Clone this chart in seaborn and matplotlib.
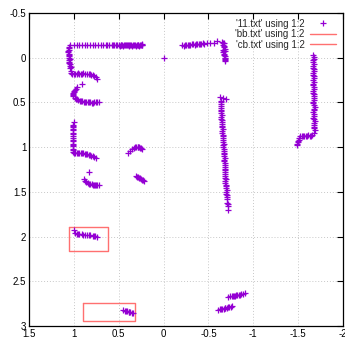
import matplotlib
matplotlib.use("Agg")
import matplotlib.pyplot as plt
from matplotlib.lines import Line2D
import seaborn as sns
import pandas as pd

# ---- data ('11.txt' using 1:2) ----
seg_top_left_x = [1.04, 1.0, 0.97, 0.94, 0.91, 0.88, 0.85, 0.82, 0.79, 0.76, 0.73, 0.70, 0.67, 0.64,
                  0.61, 0.58, 0.55, 0.52, 0.50, 0.48, 0.46, 0.44, 0.42, 0.40, 0.38, 0.36, 0.34, 0.32,
                  0.30, 0.28, 0.26, 0.245, 0.235,
                  0.49, 0.47, 0.45, 0.43, 0.41, 0.39, 0.37, 0.35, 0.33, 0.31, 0.29, 0.27, 0.25, 0.24,
                  0.625, 0.565, 0.535]
seg_top_left_y = [-0.14, -0.14, -0.14, -0.14, -0.14, -0.14, -0.14, -0.14, -0.14, -0.14, -0.14, -0.14,
                  -0.14, -0.14, -0.14, -0.14, -0.14, -0.14, -0.14, -0.14, -0.14, -0.14, -0.145, -0.14,
                  -0.14, -0.145, -0.14, -0.14, -0.145, -0.14, -0.145, -0.14, -0.145,
                  -0.135, -0.145, -0.135, -0.145, -0.14, -0.135, -0.145, -0.135, -0.145, -0.135, -0.145,
                  -0.135, -0.14, -0.15,
                  -0.14, -0.14, -0.145]

seg_left_vert_x = [1.05, 1.055, 1.06, 1.055, 1.05, 1.055, 1.05, 1.045, 1.04, 1.035, 1.03, 1.02,
                   1.055, 1.06, 1.05, 1.055, 1.045, 1.05, 1.04, 1.035]
seg_left_vert_y = [-0.12, -0.09, -0.06, -0.03, 0.0, 0.03, 0.06, 0.09, 0.12, 0.15, 0.17, 0.18,
                   -0.105, -0.075, -0.045, -0.015, 0.015, 0.045, 0.075, 0.105]

seg_hook_x = [1.0, 0.97, 0.94, 0.91, 0.88, 0.85, 0.82, 0.79, 0.77, 0.755, 0.745,
              0.985, 0.955, 0.925, 0.895, 0.835, 0.805]
seg_hook_y = [0.18, 0.18, 0.18, 0.18, 0.18, 0.18, 0.185, 0.19, 0.2, 0.22, 0.24,
              0.185, 0.175, 0.185, 0.175, 0.18, 0.19]

pt_single_x = [0.91, 0.0, 0.83]
pt_single_y = [0.29, 0.0, 1.28]

seg_curve_x = [0.96, 0.98, 0.995, 1.005, 1.01, 1.005, 0.99, 0.97, 0.95, 0.92, 0.89, 0.86, 0.83, 0.80,
               0.77, 0.74, 0.72, 0.985, 1.0, 1.01, 0.98, 0.935, 0.905, 0.875, 0.845, 0.815, 0.785, 0.755]
seg_curve_y = [0.33, 0.35, 0.37, 0.39, 0.41, 0.43, 0.45, 0.465, 0.475, 0.48, 0.49, 0.495, 0.50, 0.505,
               0.5, 0.5, 0.5, 0.36, 0.38, 0.42, 0.46, 0.48, 0.485, 0.49, 0.5, 0.5, 0.505, 0.495]

seg_top_mid_x = [-0.21, -0.24, -0.27, -0.30, -0.33, -0.36, -0.39, -0.42, -0.45, -0.48, -0.52, -0.56, -0.60,
                 -0.225, -0.255, -0.285, -0.315, -0.345, -0.375, -0.405, -0.435]
seg_top_mid_y = [-0.14, -0.14, -0.145, -0.145, -0.15, -0.15, -0.15, -0.155, -0.155, -0.16, -0.16, -0.165, -0.19,
                 -0.135, -0.145, -0.14, -0.15, -0.145, -0.155, -0.15, -0.16]

seg_blob_x = [-0.65, -0.67, -0.66, -0.67, -0.68, -0.67, -0.66, -0.67, -0.68, -0.69, -0.68, -0.69,
              -0.665, -0.675, -0.66, -0.685, -0.67, -0.68]
seg_blob_y = [-0.18, -0.16, -0.14, -0.12, -0.10, -0.08, -0.06, -0.04, -0.02, 0.0, 0.02, 0.04,
              -0.17, -0.13, -0.09, -0.07, -0.03, 0.01]

seg_mid_vert_x = [-0.63, -0.66, -0.70, -0.635, -0.64, -0.64, -0.645, -0.645, -0.65, -0.65, -0.655, -0.655,
                  -0.66, -0.66, -0.665, -0.665, -0.67, -0.67, -0.675, -0.675, -0.68, -0.68, -0.685,
                  -0.685, -0.69, -0.69, -0.695, -0.70, -0.70, -0.705, -0.71, -0.71, -0.715, -0.72,
                  -0.64, -0.635, -0.645, -0.64, -0.65, -0.645, -0.655, -0.65, -0.66, -0.655, -0.665,
                  -0.66, -0.67, -0.665, -0.675, -0.67, -0.68, -0.675, -0.685, -0.68, -0.69, -0.685,
                  -0.695, -0.69, -0.70, -0.705, -0.70, -0.71, -0.715]
seg_mid_vert_y = [0.44, 0.45, 0.46, 0.5, 0.54, 0.58, 0.62, 0.66, 0.70, 0.74, 0.78, 0.82, 0.86, 0.90, 0.94,
                  0.98, 1.02, 1.06, 1.10, 1.14, 1.18, 1.22, 1.26, 1.30, 1.34, 1.38, 1.42, 1.46, 1.50,
                  1.54, 1.58, 1.62, 1.66, 1.70,
                  0.48, 0.52, 0.56, 0.60, 0.64, 0.68, 0.72, 0.76, 0.80, 0.84, 0.88, 0.92, 0.96, 1.00,
                  1.04, 1.08, 1.12, 1.16, 1.20, 1.24, 1.28, 1.32, 1.36, 1.40, 1.44, 1.48, 1.52, 1.56, 1.64]

seg_right_x = [-1.67, -1.675, -1.67, -1.665, -1.675, -1.67, -1.68, -1.67, -1.665, -1.675, -1.67, -1.68,
               -1.675, -1.67, -1.675, -1.68, -1.67, -1.675, -1.68, -1.675, -1.68, -1.685, -1.68,
               -1.66, -1.63, -1.60, -1.57, -1.54, -1.52, -1.51, -1.50, -1.49, -1.485,
               -1.675, -1.665, -1.68, -1.67, -1.675, -1.665, -1.68, -1.675, -1.67, -1.68, -1.67,
               -1.675, -1.68, -1.67, -1.685, -1.675, -1.68, -1.67, -1.685, -1.68, -1.675,
               -1.645, -1.615, -1.585, -1.555, -1.505, -1.495]
seg_right_y = [-0.03, 0.01, 0.05, 0.09, 0.13, 0.17, 0.21, 0.25, 0.29, 0.33, 0.37, 0.41, 0.45, 0.49, 0.53,
               0.57, 0.61, 0.65, 0.69, 0.73, 0.77, 0.81, 0.84,
               0.865, 0.87, 0.87, 0.875, 0.875, 0.88, 0.9, 0.93, 0.96, 0.98,
               -0.01, 0.03, 0.07, 0.11, 0.15, 0.19, 0.23, 0.27, 0.31, 0.35, 0.39, 0.43, 0.47, 0.51,
               0.55, 0.59, 0.63, 0.67, 0.71, 0.75, 0.79,
               0.87, 0.865, 0.875, 0.87, 0.915, 0.945]

seg_L_x = [1.0, 1.01, 1.01, 1.015, 1.01, 1.015, 1.01, 1.015, 1.01, 1.01, 1.015, 1.01,
           1.0, 0.97, 0.94, 0.91, 0.88, 0.85, 0.82, 0.79, 0.77, 0.75,
           1.005, 1.015, 1.01, 1.005, 1.015, 1.01, 0.985, 0.955, 0.925, 0.895, 0.865, 0.835, 0.805]
seg_L_y = [0.72, 0.75, 0.78, 0.81, 0.84, 0.87, 0.90, 0.93, 0.96, 0.99, 1.02, 1.05,
           1.06, 1.065, 1.07, 1.07, 1.075, 1.08, 1.09, 1.1, 1.11, 1.12,
           0.765, 0.795, 0.855, 0.915, 0.975, 1.035, 1.06, 1.065, 1.07, 1.07, 1.075, 1.085, 1.095]

seg_smile_x = [0.89, 0.875, 0.86, 0.84, 0.82, 0.80, 0.78, 0.76, 0.74, 0.72, 0.83, 0.79, 0.75]
seg_smile_y = [1.36, 1.38, 1.395, 1.405, 1.41, 1.415, 1.42, 1.42, 1.425, 1.42, 1.41, 1.42, 1.42]

seg_arc_x = [0.395, 0.37, 0.35, 0.33, 0.31, 0.29, 0.27, 0.25, 0.235, 0.32, 0.28, 0.26]
seg_arc_y = [1.07, 1.04, 1.02, 1.005, 0.995, 0.995, 1.0, 1.01, 1.025, 1.0, 0.995, 1.005]

seg_dash_x = [0.31, 0.29, 0.27, 0.25, 0.23, 0.22, 0.30, 0.26, 0.24]
seg_dash_y = [1.32, 1.335, 1.345, 1.36, 1.37, 1.375, 1.33, 1.35, 1.365]

seg_two_x = [1.0, 0.99, 0.97, 0.94, 0.91, 0.88, 0.85, 0.82, 0.79, 0.76, 0.74, 0.955, 0.895, 0.835, 0.775]
seg_two_y = [1.93, 1.96, 1.97, 1.975, 1.975, 1.98, 1.98, 1.985, 1.99, 1.995, 2.0, 1.975, 1.98, 1.985, 1.99]

seg_bottom_x = [0.45, 0.43, 0.41, 0.39, 0.37, 0.35, 0.34, 0.42, 0.38]
seg_bottom_y = [2.82, 2.83, 2.835, 2.84, 2.845, 2.85, 2.855, 2.83, 2.84]

seg_br_low_x = [-0.61, -0.63, -0.65, -0.67, -0.69, -0.71, -0.73, -0.75, -0.76, -0.64, -0.68, -0.72]
seg_br_low_y = [2.82, 2.815, 2.81, 2.805, 2.80, 2.795, 2.79, 2.785, 2.78, 2.81, 2.80, 2.79]

seg_br_up_x = [-0.72, -0.74, -0.76, -0.78, -0.80, -0.82, -0.84, -0.86, -0.88, -0.905, -0.77, -0.81, -0.85]
seg_br_up_y = [2.675, 2.67, 2.665, 2.66, 2.66, 2.655, 2.65, 2.645, 2.64, 2.635, 2.665, 2.655, 2.65]

# 'bb.txt' and 'cb.txt' boxes (closed polylines)
bb_x = [1.05, 0.62, 0.62, 1.05, 1.05]
bb_y = [1.89, 1.89, 2.16, 2.16, 1.89]
cb_x = [0.90, 0.32, 0.32, 0.90, 0.90]
cb_y = [2.74, 2.74, 2.94, 2.94, 2.74]

x_ticks = [1.5, 1, 0.5, 0, -0.5, -1, -1.5, -2]
y_ticks = [-0.5, 0, 0.5, 1, 1.5, 2, 2.5, 3]
legend_labels = ["'11.txt' using 1:2", "'bb.txt' using 1:2", "'cb.txt' using 1:2"]

# ---- build frame ----
xs_all = (seg_top_left_x + seg_left_vert_x + seg_hook_x + pt_single_x + seg_curve_x + seg_top_mid_x
          + seg_blob_x + seg_mid_vert_x + seg_right_x + seg_L_x + seg_smile_x + seg_arc_x + seg_dash_x
          + seg_two_x + seg_bottom_x + seg_br_low_x + seg_br_up_x)
ys_all = (seg_top_left_y + seg_left_vert_y + seg_hook_y + pt_single_y + seg_curve_y + seg_top_mid_y
          + seg_blob_y + seg_mid_vert_y + seg_right_y + seg_L_y + seg_smile_y + seg_arc_y + seg_dash_y
          + seg_two_y + seg_bottom_y + seg_br_low_y + seg_br_up_y)
pts = pd.DataFrame({"x": xs_all, "y": ys_all})
bb = pd.DataFrame({"x": bb_x, "y": bb_y})
cb = pd.DataFrame({"x": cb_x, "y": cb_y})

sns.set_style("white")
plt.rcParams["font.family"] = ["Liberation Sans", "DejaVu Sans"]
plt.rcParams["axes.unicode_minus"] = False

PURPLE = "#9400d3"
RED = "#ff7070"

fig = plt.figure(figsize=(3.45, 3.41), dpi=100)
ax = fig.add_axes([29 / 345, 1 - 326 / 341, 314 / 345, 313 / 341])

sns.scatterplot(data=pts, x="x", y="y", marker="+", s=24, color=PURPLE, linewidth=0.9, ax=ax,
                legend=False, zorder=3)
for df in (bb, cb):
    ax.plot(df["x"], df["y"], color=RED, lw=1.0, zorder=2)

ax.set_xlim(1.5, -2)
ax.set_ylim(3, -0.5)
ax.set_xticks(x_ticks)
ax.set_xticklabels([f"{v:g}" for v in x_ticks])
ax.set_yticks(y_ticks)
ax.set_yticklabels([f"{v:g}" for v in y_ticks])
ax.set_xlabel("")
ax.set_ylabel("")
ax.grid(True, color="#c8c8c8", linestyle=(0, (1, 2)), linewidth=0.7)
ax.tick_params(direction="in", length=4, width=0.8, top=True, right=True, labelsize=7, pad=2,
               colors="black")
for sp in ax.spines.values():
    sp.set_color("black")
    sp.set_linewidth(0.9)

handles = [Line2D([], [], marker="+", linestyle="none", color=PURPLE, markersize=5, markeredgewidth=0.9),
           Line2D([], [], color=RED, lw=1.0),
           Line2D([], [], color=RED, lw=1.0)]
ax.legend(handles, legend_labels, loc="upper right", frameon=False, markerfirst=False, fontsize=7,
          handlelength=2.6, handletextpad=0.6, labelspacing=0.05, borderaxespad=0.2,
          bbox_to_anchor=(0.995, 1.0))

fig.savefig("out.png", dpi=100)
